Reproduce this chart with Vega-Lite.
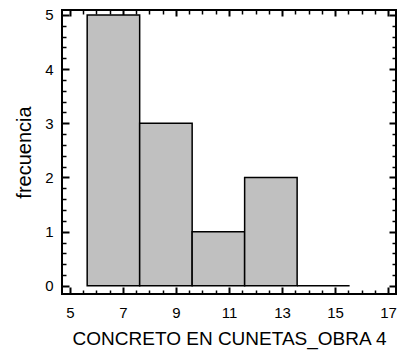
{
  "$schema": "https://vega.github.io/schema/vega-lite/v6.json",
  "width": 334,
  "height": 284,
  "autosize": "none",
  "padding": {"left": 62, "top": 10, "right": 3, "bottom": 60},
  "background": "white",
  "config": {
    "view": {"stroke": "black", "strokeWidth": 2},
    "font": "Liberation Sans",
    "axis": {"grid": false, "domain": false, "labelColor": "black", "titleColor": "black", "tickColor": "black", "tickWidth": 1.5, "labelFont": "Liberation Sans", "titleFont": "Liberation Sans", "titleFontWeight": "normal", "format": "~g", "zindex": 1}
  },
  "data": {
    "values": [
      {"bin_start": 5.65, "bin_end": 7.63, "count": 5},
      {"bin_start": 7.63, "bin_end": 9.61, "count": 3},
      {"bin_start": 9.61, "bin_end": 11.59, "count": 1},
      {"bin_start": 11.59, "bin_end": 13.57, "count": 2},
      {"bin_start": 13.57, "bin_end": 15.55, "count": 0}
    ]
  },
  "resolve": {"axis": {"x": "independent", "y": "independent"}},
  "layer": [
    {
      "mark": {"type": "rect", "fill": "#c0c0c0", "stroke": "black", "strokeWidth": 1.5},
      "encoding": {
        "x": {"field": "bin_start", "type": "quantitative",
          "scale": {"domain": [4.7, 17.3], "nice": false, "zero": false},
          "axis": {"orient": "bottom", "title": "CONCRETO EN CUNETAS_OBRA 4", "titleFontSize": 19, "titlePadding": 9,
            "values": [5,7,9,11,13,15,17],
            "labelFontSize": 15, "labelPadding": 11, "labelFlush": false,
            "offset": -7, "tickSize": 7, "tickWidth": 2}},
        "x2": {"field": "bin_end"},
        "y": {"field": "count", "type": "quantitative",
          "scale": {"domain": [-0.15, 5.09], "nice": false, "zero": false},
          "axis": {"orient": "left", "title": "frecuencia", "titleFontSize": 20, "titlePadding": 10,
            "values": [0,1,2,3,4,5],
            "labelFontSize": 15, "labelPadding": 9, "labelFlush": false,
            "offset": -7, "tickSize": 7, "tickWidth": 2}},
        "y2": {"datum": 0}
      }
    },
    {
      "mark": {"type": "rect", "fillOpacity": 0, "strokeOpacity": 0},
      "encoding": {
        "x": {"field": "bin_start", "type": "quantitative",
          "axis": {"orient": "bottom", "title": null, "labels": false,
            "values": [5.5,6,6.5,7.5,8,8.5,9.5,10,10.5,11.5,12,12.5,13.5,14,14.5,15.5,16,16.5],
            "offset": -4, "tickSize": 4}},
        "x2": {"field": "bin_end"},
        "y": {"field": "count", "type": "quantitative",
          "axis": {"orient": "left", "title": null, "labels": false,
            "values": [0.2,0.4,0.6,0.8,1.2,1.4,1.6,1.8,2.2,2.4,2.6,2.8,3.2,3.4,3.6,3.8,4.2,4.4,4.6,4.8],
            "offset": -4, "tickSize": 4}},
        "y2": {"datum": 0}
      }
    },
    {
      "mark": {"type": "rect", "fillOpacity": 0, "strokeOpacity": 0},
      "encoding": {
        "x": {"field": "bin_start", "type": "quantitative",
          "axis": {"orient": "top", "title": null, "labels": false,
            "values": [5,7,9,11,13,15,17],
            "offset": -6, "tickSize": 6, "tickWidth": 2}},
        "x2": {"field": "bin_end"},
        "y": {"field": "count", "type": "quantitative",
          "axis": {"orient": "right", "title": null, "labels": false,
            "values": [0,1,2,3,4,5],
            "offset": -7, "tickSize": 7, "tickWidth": 2}},
        "y2": {"datum": 0}
      }
    },
    {
      "mark": {"type": "rect", "fillOpacity": 0, "strokeOpacity": 0},
      "encoding": {
        "x": {"field": "bin_start", "type": "quantitative",
          "axis": {"orient": "top", "title": null, "labels": false,
            "values": [5.5,6,6.5,7.5,8,8.5,9.5,10,10.5,11.5,12,12.5,13.5,14,14.5,15.5,16,16.5],
            "offset": -4, "tickSize": 4}},
        "x2": {"field": "bin_end"},
        "y": {"field": "count", "type": "quantitative",
          "axis": {"orient": "right", "title": null, "labels": false,
            "values": [0.2,0.4,0.6,0.8,1.2,1.4,1.6,1.8,2.2,2.4,2.6,2.8,3.2,3.4,3.6,3.8,4.2,4.4,4.6,4.8],
            "offset": -4, "tickSize": 4}},
        "y2": {"datum": 0}
      }
    }
  ]
}
